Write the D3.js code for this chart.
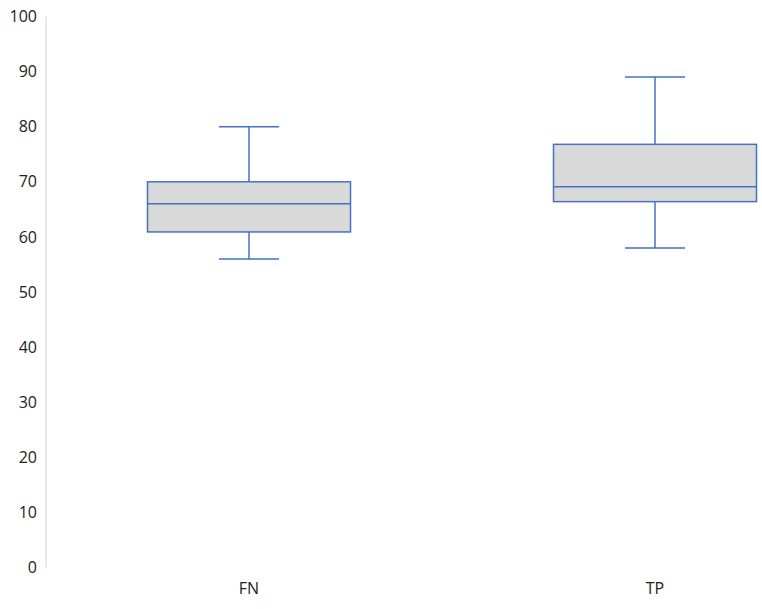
<!DOCTYPE html>
<html><head><meta charset="utf-8">
<script src="https://cdn.jsdelivr.net/npm/d3@7"></script>
<style>body{margin:0;background:#fff}svg{display:block}</style>
</head><body>
<svg id="c" width="762" height="609"></svg>
<script>
const categories = ["FN", "TP"];
const whiskerLow = [56, 58];
const q1 = [60.9, 66.4];
const median = [66, 69.1];
const q3 = [70, 76.8];
const whiskerHigh = [80, 89];
const yTicks = [0, 10, 20, 30, 40, 50, 60, 70, 80, 90, 100];

const svg = d3.select("#c");
const x0 = 46;
const y = d3.scaleLinear().domain([0, 100]).range([567.5, 16.5]);
const x = d3.scaleBand().domain(categories).range([x0, x0 + 812]);
const font = "'Open Sans', 'Noto Sans', sans-serif";

// axis line
svg.append("line").attr("x1", x0).attr("x2", x0).attr("y1", y(0)).attr("y2", y(100))
  .attr("stroke", "#d9d9d9").attr("stroke-width", 1.3);

// y labels
const yAxis = d3.axisLeft(y).tickValues(yTicks).tickSize(0).tickPadding(9);
const ga = svg.append("g").attr("transform", `translate(${x0},0)`).call(yAxis);
ga.select(".domain").remove();
ga.selectAll("text").attr("font-family", font).attr("font-size", 16).attr("fill", "#222");

// x labels
const gx = svg.append("g").attr("transform", `translate(0,${y(0)})`)
  .call(d3.axisBottom(x).tickSize(0).tickPadding(15));
gx.select(".domain").remove();
gx.selectAll("text").attr("font-family", font).attr("font-size", 16).attr("fill", "#222");

const col = "#4472C4";
const bw = x.bandwidth() * 0.5;
const cw = x.bandwidth() * 0.148;
categories.forEach((c, i) => {
  const cx = x(c) + x.bandwidth() / 2;
  const g = svg.append("g").attr("stroke", col).attr("stroke-width", 1.5);
  g.append("line").attr("x1", cx).attr("x2", cx).attr("y1", y(whiskerHigh[i])).attr("y2", y(q3[i]));
  g.append("line").attr("x1", cx).attr("x2", cx).attr("y1", y(q1[i])).attr("y2", y(whiskerLow[i]));
  g.append("line").attr("x1", cx - cw / 2).attr("x2", cx + cw / 2).attr("y1", y(whiskerHigh[i])).attr("y2", y(whiskerHigh[i]));
  g.append("line").attr("x1", cx - cw / 2).attr("x2", cx + cw / 2).attr("y1", y(whiskerLow[i])).attr("y2", y(whiskerLow[i]));
  g.append("rect").attr("x", cx - bw / 2).attr("width", bw)
    .attr("y", y(q3[i])).attr("height", y(q1[i]) - y(q3[i])).attr("fill", "#d9d9d9");
  g.append("line").attr("x1", cx - bw / 2).attr("x2", cx + bw / 2).attr("y1", y(median[i])).attr("y2", y(median[i]));
});
</script>
</body></html>
